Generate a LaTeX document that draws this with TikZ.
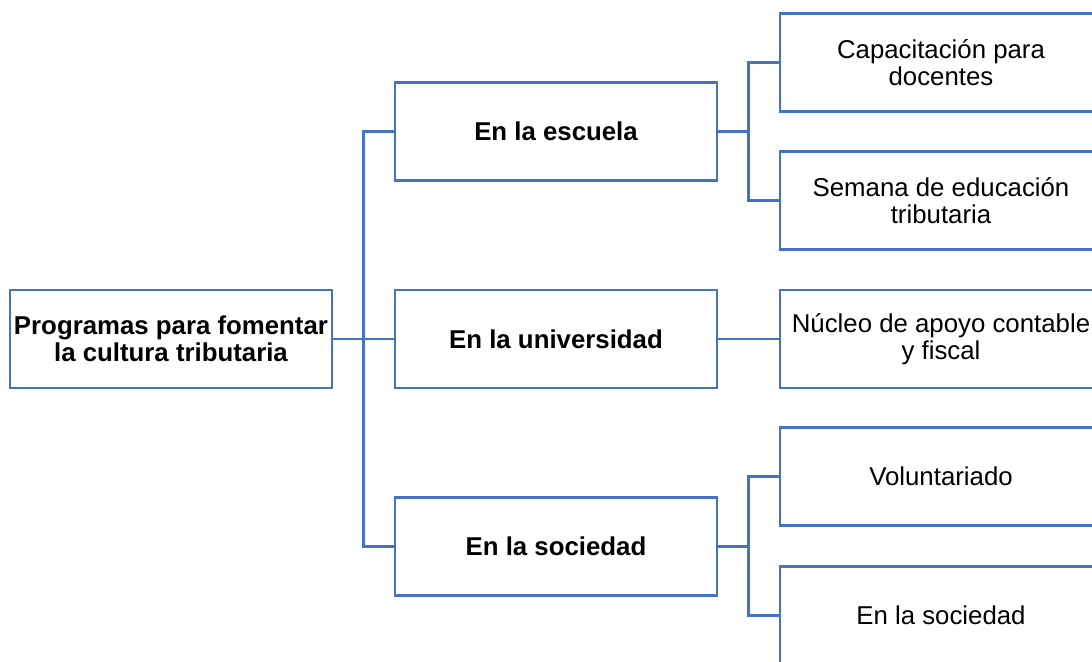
\documentclass[tikz,border=0pt]{standalone}
\usepackage{fontspec}
\setmainfont{Liberation Sans}
\usetikzlibrary{positioning}
\definecolor{lineblue}{HTML}{4472C4}
\tikzstyle{box}=[draw=lineblue, line width=1.4pt, rectangle, minimum width=161pt, minimum height=49pt, inner xsep=1pt, align=center, font=\fontsize{12.9}{13.5}\selectfont]
\tikzstyle{boldbox}=[box, font=\fontsize{12.9}{13.5}\selectfont\bfseries]
\tikzstyle{link}=[draw=lineblue, line width=1.4pt]

\begin{document}
\begin{tikzpicture}[x=0.5pt, y=-0.5pt]
            \clip (0,0) rectangle (1092,662);
            \node[boldbox] (root) at (171,339) {Programas para fomentar\\la cultura tributaria};
            \node[boldbox, right=30.1pt of root] (univ) {En la universidad};
            \node[boldbox] (esc) at (556,131.5) {En la escuela};
            \node[boldbox] (soc) at (556,546.5) {En la sociedad};
            \node[box] (cap) at (941,62.5) {Capacitación para\\docentes};
            \node[box] (sem) at (941,200.5) {Semana de educación\\tributaria};
            \node[box, right=30.1pt of univ] (nuc) {Núcleo de apoyo contable\\y fiscal};
            \node[box] (vol) at (941,476.5) {Voluntariado};
            \node[box] (soc2) at (941,615.5) {En la sociedad};

            \draw[link] (root.east) -- ++(15pt,0) coordinate (j1);
            \draw[link] (j1) |- (esc.west);
            \draw[link] (j1) |- (univ.west);
            \draw[link] (j1) |- (soc.west);

            \draw[link] (esc.east) -- ++(15pt,0) coordinate (j2);
            \draw[link] (j2) |- (cap.west);
            \draw[link] (j2) |- (sem.west);

            \draw[link] (univ) -- (nuc);

            \draw[link] (soc.east) -- ++(15pt,0) coordinate (j3);
            \draw[link] (j3) |- (vol.west);
            \draw[link] (j3) |- (soc2.west);
        \end{tikzpicture}
\end{document}
